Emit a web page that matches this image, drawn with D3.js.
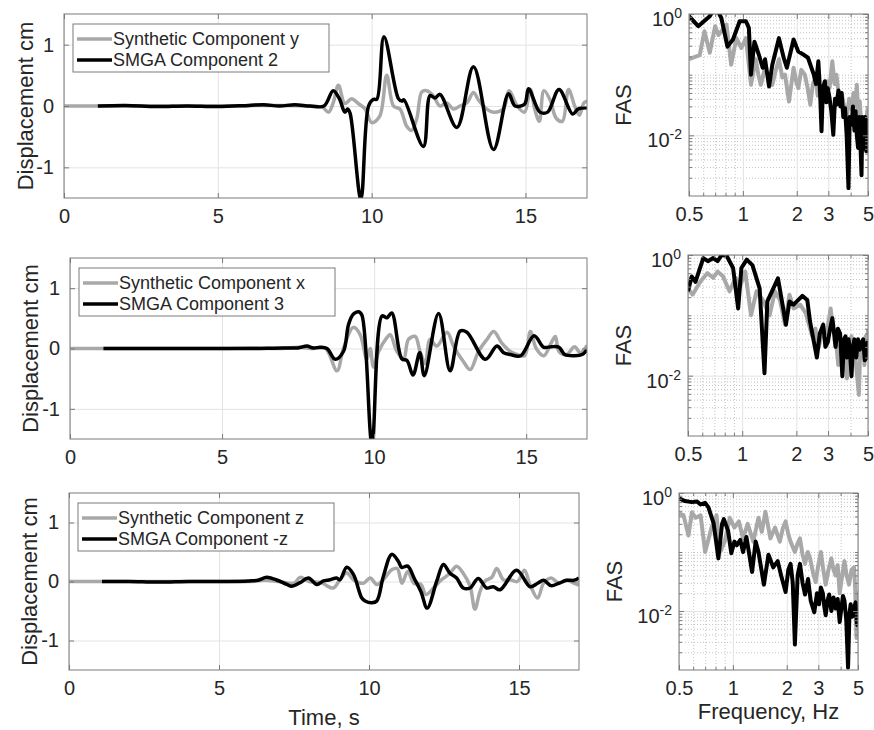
<!DOCTYPE html>
<html>
<head>
<meta charset="utf-8">
<title>Displacement and FAS</title>
<script src="https://cdn.jsdelivr.net/npm/d3@7"></script>
<style>
body { margin: 0; background: #fff; }
text { font-family: "Liberation Sans", Arial, Helvetica, sans-serif; fill: #262626; }
.grid line { stroke: #e3e3e3; stroke-width: 1; }
.minor line { stroke: #c4c4c4; stroke-width: 1; stroke-dasharray: 1,2; }
.frame { fill: none; stroke: #7a7a7a; stroke-width: 1; }
.ax line { stroke: #7a7a7a; }
.synth { fill: none; stroke: #a8a8a8; stroke-width: 3.5; stroke-linejoin: round; }
.smga { fill: none; stroke: #000; stroke-width: 3.5; stroke-linejoin: round; }
.fas .synth, .fas .smga { stroke-width: 4; }
.legend rect { fill: #fff; stroke: #7a7a7a; stroke-width: 1; }
</style>
</head>
<body>
<script>
// ---- data ----
var timeTicks = [0, 5, 10, 15];
var dispTicks = [-1, 0, 1];
var freqTicks = [0.5, 1, 2, 3, 5];
var fasTicks = [1e-2, 1];
var timeDomain = [0, 17];
var dispDomain = [-1.5, 1.5];
var freqDomain = [0.5, 5];
var fasDomain = [1e-3, 1];

var synthNames = ["Synthetic Component y", "Synthetic Component x", "Synthetic Component z"];
var smgaNames = ["SMGA Component 2", "SMGA Component 3", "SMGA Component -z"];

// displacement, [time s, cm]
var synthY = [[0,0],[1,0],[3,0],[5,0],[7,0.01],[8,0],[8.4,-0.02],[8.6,-0.1],[8.75,0.05],[8.92,0.34],[9.13,0.04],[9.35,0.12],[9.57,0.04],[9.79,-0.05],[10.0,-0.27],[10.26,-0.17],[10.49,0.5],[10.71,0.0],[10.92,-0.05],[11.14,-0.33],[11.3,-0.4],[11.47,-0.2],[11.63,0.23],[11.79,0.25],[12.0,0.17],[12.22,0.0],[12.44,0.05],[12.66,-0.05],[12.87,0.0],[13.09,0.05],[13.31,0.22],[13.47,0.1],[13.74,-0.05],[13.96,-0.1],[14.28,-0.05],[14.47,0.25],[14.73,0],[14.97,-0.1],[15.16,0.27],[15.3,-0.05],[15.45,-0.25],[15.6,0.25],[15.8,0.1],[16.0,-0.2],[16.2,-0.25],[16.4,0.27],[16.6,0.0],[16.75,-0.15],[16.9,0.05],[17,0.08]];
var smga2 = [[1.1,0],[2,0.01],[3,-0.01],[4,0],[5,-0.01],[6,0.01],[6.5,0.02],[7,0],[7.5,0.02],[8,0],[8.45,0],[8.75,0.25],[8.95,0.12],[9.13,-0.1],[9.22,-0.05],[9.3,-0.12],[9.65,-1.52],[9.9,0.0],[10.06,0.11],[10.17,0.11],[10.4,1.13],[10.87,0.12],[10.98,0.08],[11.05,0.1],[11.68,-0.66],[11.9,0.17],[12.06,0.13],[12.22,0.19],[12.77,-0.35],[13.31,0.64],[13.96,-0.71],[14.45,0.2],[14.66,0],[14.97,0.03],[15.1,0.28],[15.47,-0.1],[15.72,-0.1],[16.09,0.27],[16.53,-0.13],[16.71,-0.05],[17,-0.03]];
var synthX = [[0,0],[1,0],[3,0],[5,0],[6,0.01],[7,0],[7.5,0.02],[8,0],[8.4,0.0],[8.78,-0.37],[8.99,0],[9.32,0.35],[9.54,0.23],[9.76,-0.18],[9.87,0],[9.98,-0.31],[10.15,-0.05],[10.42,0.18],[10.53,0.23],[10.75,-0.05],[10.97,-0.17],[11.13,0.15],[11.35,0.2],[11.51,-0.05],[11.68,-0.25],[11.84,0.15],[12.06,0.04],[12.4,0.27],[12.61,0.04],[12.94,-0.22],[13.16,-0.35],[13.43,-0.05],[13.71,0.15],[13.93,0.28],[14.2,0.09],[14.48,-0.05],[14.7,-0.1],[14.95,-0.12],[15.14,0.28],[15.33,0],[15.58,-0.12],[15.83,0.1],[15.96,0.2],[16.08,-0.05],[16.33,-0.1],[16.59,0.03],[16.78,-0.07],[17,0.05]];
var smga3 = [[1.1,0],[3,0],[5,0],[6,0],[7,0.01],[7.5,0.01],[7.79,0.04],[8.0,0.01],[8.23,0.02],[8.45,0],[8.72,-0.18],[8.99,-0.05],[9.16,0.4],[9.32,0.57],[9.49,0.61],[9.6,0.55],[9.93,-1.58],[10.26,0.54],[10.42,0.51],[10.58,0.59],[10.91,-0.17],[11.08,-0.2],[11.28,-0.44],[11.5,-0.07],[11.65,-0.45],[12.12,0.58],[12.5,-0.37],[12.83,0.29],[13.05,0.27],[13.66,-0.18],[14.04,0.04],[14.26,-0.07],[14.48,-0.1],[14.82,-0.12],[15.26,0.21],[15.58,0.02],[15.83,0.03],[16.08,0.02],[16.27,-0.1],[16.59,-0.12],[16.84,-0.1],[17,-0.02]];
var synthZ = [[0,0],[1,0],[3,0],[5,0],[6,0],[6.5,0.02],[7,0.0],[7.5,-0.03],[7.7,0.07],[8,0],[8.4,-0.02],[8.81,-0.11],[9.03,0.03],[9.26,0.15],[9.48,0.03],[9.81,-0.03],[10.04,0.06],[10.26,-0.05],[10.48,0.03],[10.76,0.2],[10.94,0.22],[11.1,-0.03],[11.29,0.17],[11.5,-0.03],[11.73,-0.05],[11.9,-0.22],[12.15,-0.11],[12.37,0.01],[12.7,0.14],[12.92,0.26],[13.14,0.14],[13.37,-0.08],[13.53,-0.47],[13.7,-0.17],[13.87,0.01],[14.09,0.07],[14.26,0.22],[14.48,0.03],[14.7,0.03],[14.95,0.0],[15.18,0.19],[15.37,-0.06],[15.62,-0.28],[15.82,-0.03],[16.07,0.06],[16.33,-0.03],[16.59,0.02],[16.84,-0.03],[17,-0.06]];
var smgaNegZ = [[1.1,0],[2,0],[3,-0.01],[4,0],[5,0],[6,0.01],[6.3,0.02],[6.59,0.07],[6.9,0.03],[7.26,-0.05],[7.42,-0.08],[7.7,-0.02],[7.98,0.06],[8.26,-0.05],[8.48,0.01],[8.7,0.03],[8.92,0.06],[9.03,0.03],[9.26,0.24],[9.48,0.12],[9.76,-0.28],[9.87,-0.33],[10.09,-0.36],[10.26,-0.33],[10.48,0.09],[10.76,0.46],[10.98,0.34],[11.09,0.24],[11.29,0.26],[11.51,0.05],[11.73,-0.17],[11.94,-0.45],[12.26,0.01],[12.48,0.29],[12.7,0.14],[12.92,0.06],[13.14,-0.11],[13.37,-0.11],[13.64,0.05],[13.92,-0.11],[14.14,-0.09],[14.37,-0.14],[14.92,0.19],[15.37,-0.09],[15.62,-0.03],[15.82,0.02],[16.07,-0.07],[16.33,-0.03],[16.59,0.02],[16.84,0.02],[17,0.06]];

// Fourier amplitude spectra, [frequency Hz, amplitude]
var fasSynthY = [[0.5,0.18],[0.574,0.21],[0.61,0.52],[0.653,0.23],[0.70,0.63],[0.73,0.45],[0.758,0.52],[0.81,0.67],[0.86,0.146],[0.92,0.40],[0.98,0.275],[1.04,0.40],[1.11,0.068],[1.18,0.18],[1.22,0.1],[1.26,0.068],[1.33,0.13],[1.4,0.09],[1.46,0.068],[1.53,0.12],[1.59,0.18],[1.66,0.09],[1.72,0.1],[1.81,0.036],[1.92,0.13],[1.98,0.08],[2.04,0.06],[2.12,0.12],[2.22,0.1],[2.3,0.06],[2.38,0.032],[2.46,0.07],[2.55,0.09],[2.62,0.045],[2.7,0.055],[2.82,0.035],[2.95,0.078],[3.05,0.06],[3.16,0.166],[3.25,0.07],[3.33,0.1],[3.45,0.04],[3.56,0.05],[3.68,0.03],[3.8,0.019],[3.92,0.04],[4.05,0.027],[4.15,0.05],[4.25,0.03],[4.33,0.068],[4.42,0.02],[4.5,0.036],[4.6,0.012],[4.7,0.0055],[4.8,0.02],[4.88,0.01],[4.95,0.025],[5.0,0.028]];
var fasSmga2 = [[0.5,0.92],[0.563,0.63],[0.653,0.92],[0.69,1.2],[0.726,1.1],[0.758,0.86],[0.82,0.29],[0.88,0.38],[0.96,0.76],[1.04,0.76],[1.08,0.59],[1.11,0.1],[1.16,0.35],[1.23,0.21],[1.29,0.13],[1.33,0.18],[1.40,0.064],[1.46,0.146],[1.59,0.40],[1.69,0.19],[1.76,0.13],[1.92,0.38],[2.04,0.24],[2.15,0.22],[2.31,0.19],[2.49,0.1],[2.56,0.07],[2.64,0.166],[2.7,0.05],[2.75,0.0117],[2.8,0.06],[2.87,0.078],[2.93,0.035],[2.98,0.06],[3.05,0.041],[3.12,0.025],[3.2,0.0102],[3.27,0.04],[3.33,0.032],[3.42,0.055],[3.5,0.03],[3.56,0.05],[3.64,0.02],[3.72,0.028],[3.8,0.01],[3.89,0.00135],[3.95,0.02],[4.05,0.015],[4.12,0.03],[4.2,0.012],[4.26,0.025],[4.33,0.01],[4.4,0.0062],[4.47,0.02],[4.53,0.008],[4.6,0.0022],[4.65,0.02],[4.7,0.015],[4.76,0.006],[4.82,0.02],[4.9,0.0055],[4.95,0.012],[5.0,0.019]];
var fasSynthX = [[0.5,0.28],[0.53,0.22],[0.585,0.36],[0.64,0.5],[0.69,0.42],[0.73,0.53],[0.78,0.45],[0.85,0.25],[0.92,0.42],[0.97,0.29],[1.04,0.53],[1.12,0.1],[1.2,0.25],[1.3,0.18],[1.42,0.1],[1.52,0.25],[1.62,0.18],[1.73,0.07],[1.83,0.22],[1.93,0.13],[2.1,0.15],[2.25,0.11],[2.35,0.07],[2.45,0.045],[2.55,0.06],[2.66,0.029],[2.8,0.06],[2.95,0.05],[3.1,0.13],[3.2,0.06],[3.3,0.045],[3.42,0.015],[3.55,0.04],[3.68,0.03],[3.82,0.009],[3.92,0.03],[4.05,0.045],[4.12,0.02],[4.2,0.027],[4.32,0.012],[4.45,0.0048],[4.52,0.025],[4.6,0.02],[4.7,0.035],[4.78,0.015],[4.85,0.045],[4.92,0.02],[5.0,0.06]];
var fasSmga3 = [[0.5,0.25],[0.524,0.44],[0.55,0.36],[0.608,0.89],[0.645,0.79],[0.69,0.89],[0.73,0.79],[0.77,1.0],[0.82,0.97],[0.89,0.61],[0.95,0.13],[0.99,0.61],[1.06,0.84],[1.14,0.68],[1.25,0.28],[1.33,0.011],[1.38,0.17],[1.58,0.41],[1.69,0.13],[1.75,0.07],[1.83,0.17],[1.93,0.15],[2.16,0.21],[2.3,0.18],[2.38,0.08],[2.6,0.02],[2.7,0.05],[2.82,0.07],[2.9,0.03],[2.99,0.036],[3.08,0.06],[3.17,0.09],[3.3,0.03],[3.4,0.06],[3.5,0.05],[3.6,0.0098],[3.68,0.04],[3.75,0.045],[3.82,0.02],[3.9,0.04],[3.97,0.025],[4.05,0.0098],[4.12,0.03],[4.2,0.04],[4.3,0.02],[4.4,0.04],[4.5,0.027],[4.6,0.035],[4.7,0.04],[4.8,0.018],[4.9,0.02],[4.95,0.035],[5.0,0.025]];
var fasSynthZ = [[0.5,0.45],[0.53,0.42],[0.565,0.19],[0.59,0.47],[0.62,0.38],[0.66,0.42],[0.7,0.1],[0.76,0.26],[0.81,0.42],[0.85,0.1],[0.9,0.15],[0.96,0.38],[1.02,0.26],[1.08,0.33],[1.14,0.17],[1.21,0.3],[1.3,0.15],[1.39,0.38],[1.45,0.22],[1.52,0.48],[1.62,0.17],[1.72,0.26],[1.83,0.15],[1.9,0.25],[1.97,0.33],[2.04,0.2],[2.1,0.15],[2.22,0.1],[2.3,0.14],[2.37,0.17],[2.45,0.09],[2.53,0.063],[2.62,0.1],[2.7,0.078],[2.8,0.045],[2.9,0.031],[3.0,0.06],[3.1,0.1],[3.2,0.05],[3.3,0.028],[3.42,0.05],[3.55,0.078],[3.65,0.05],[3.75,0.04],[3.85,0.06],[3.95,0.02],[4.08,0.04],[4.2,0.07],[4.32,0.04],[4.45,0.028],[4.6,0.05],[4.75,0.055],[4.82,0.025],[4.9,0.0035],[4.95,0.02],[5.0,0.015]];
var fasSmgaNegZ = [[0.5,0.81],[0.54,0.73],[0.59,0.70],[0.63,0.72],[0.66,0.64],[0.7,0.68],[0.73,0.57],[0.78,0.31],[0.83,0.078],[0.87,0.3],[0.89,0.36],[0.94,0.23],[0.98,0.095],[1.02,0.15],[1.05,0.13],[1.1,0.16],[1.14,0.1],[1.19,0.18],[1.28,0.046],[1.34,0.15],[1.39,0.1],[1.49,0.028],[1.58,0.09],[1.68,0.055],[1.78,0.07],[1.86,0.04],[1.97,0.021],[2.04,0.05],[2.1,0.063],[2.16,0.03],[2.22,0.0027],[2.3,0.04],[2.37,0.063],[2.45,0.03],[2.53,0.019],[2.63,0.035],[2.72,0.015],[2.85,0.0095],[2.95,0.02],[3.03,0.013],[3.1,0.025],[3.18,0.02],[3.24,0.012],[3.3,0.0085],[3.38,0.015],[3.45,0.019],[3.55,0.01],[3.65,0.017],[3.75,0.011],[3.85,0.016],[3.95,0.0065],[4.05,0.012],[4.12,0.018],[4.2,0.015],[4.3,0.007],[4.4,0.0011],[4.48,0.009],[4.55,0.013],[4.65,0.008],[4.75,0.011],[4.85,0.014],[4.93,0.006],[5.0,0.0055]];

var timeSeries = [[synthY, smga2], [synthX, smga3], [synthZ, smgaNegZ]];
var fasSeries = [[fasSynthY, fasSmga2], [fasSynthX, fasSmga3], [fasSynthZ, fasSmgaNegZ]];

// ---- layout (pixel boxes of each axes) ----
var layout = [
  {t: {x0: 64, x1: 587, y0: 14, y1: 198}, f: {x0: 689, x1: 868, y0: 14, y1: 196}, ylabX: 25, fasLabX: 623},
  {t: {x0: 70, x1: 587, y0: 258, y1: 439}, f: {x0: 688, x1: 868, y0: 255, y1: 436}, ylabX: 30, fasLabX: 623},
  {t: {x0: 69, x1: 579, y0: 493, y1: 670}, f: {x0: 679, x1: 858, y0: 493, y1: 670}, ylabX: 29, fasLabX: 614}
];

var svg = d3.select("body").append("svg")
    .attr("width", 874)
    .attr("height", 730);

function clip(id, p) {
  svg.append("clipPath").attr("id", id).append("rect")
      .attr("x", p.x0).attr("y", p.y0)
      .attr("width", p.x1 - p.x0).attr("height", p.y1 - p.y0);
  return "url(#" + id + ")";
}

function noDomain(s) { s.select(".domain").remove(); }

function frameAxes(g, p, x, y, xt, yt, xfmt, yfmt, xminor, yminor) {
  g.append("rect").attr("class", "frame")
      .attr("x", p.x0).attr("y", p.y0)
      .attr("width", p.x1 - p.x0).attr("height", p.y1 - p.y0);

  var bx = g.append("g").attr("class", "ax").attr("transform", "translate(0," + p.y1 + ")")
      .call(d3.axisBottom(x).tickValues(xt).tickSizeInner(-5).tickSizeOuter(0).tickPadding(11).tickFormat(xfmt))
      .call(noDomain);
  bx.selectAll("text").style("font-size", "20px");
  g.append("g").attr("class", "ax").attr("transform", "translate(0," + p.y0 + ")")
      .call(d3.axisTop(x).tickValues(xt).tickSizeInner(-5).tickSizeOuter(0).tickFormat(""))
      .call(noDomain);
  var ly = g.append("g").attr("class", "ax").attr("transform", "translate(" + p.x0 + ",0)")
      .call(d3.axisLeft(y).tickValues(yt).tickSizeInner(-5).tickSizeOuter(0).tickPadding(10).tickFormat(yfmt))
      .call(noDomain);
  ly.selectAll("text").style("font-size", "20px");
  g.append("g").attr("class", "ax").attr("transform", "translate(" + p.x1 + ",0)")
      .call(d3.axisRight(y).tickValues(yt).tickSizeInner(-5).tickSizeOuter(0).tickFormat(""))
      .call(noDomain);

  if (xminor) {
    g.append("g").attr("class", "ax").attr("transform", "translate(0," + p.y1 + ")")
        .call(d3.axisBottom(x).tickValues(xminor).tickSizeInner(-3).tickSizeOuter(0).tickFormat(""))
        .call(noDomain);
    g.append("g").attr("class", "ax").attr("transform", "translate(0," + p.y0 + ")")
        .call(d3.axisTop(x).tickValues(xminor).tickSizeInner(-3).tickSizeOuter(0).tickFormat(""))
        .call(noDomain);
  }
  if (yminor) {
    g.append("g").attr("class", "ax").attr("transform", "translate(" + p.x0 + ",0)")
        .call(d3.axisLeft(y).tickValues(yminor).tickSizeInner(-3).tickSizeOuter(0).tickFormat(""))
        .call(noDomain);
    g.append("g").attr("class", "ax").attr("transform", "translate(" + p.x1 + ",0)")
        .call(d3.axisRight(y).tickValues(yminor).tickSizeInner(-3).tickSizeOuter(0).tickFormat(""))
        .call(noDomain);
  }
  return ly;
}

function timePanel(i) {
  var p = layout[i].t;
  var x = d3.scaleLinear().domain(timeDomain).range([p.x0, p.x1]);
  var y = d3.scaleLinear().domain(dispDomain).range([p.y1, p.y0]);
  var g = svg.append("g");

  g.append("g").attr("class", "grid").attr("transform", "translate(0," + p.y1 + ")")
      .call(d3.axisBottom(x).tickValues(timeTicks).tickSize(-(p.y1 - p.y0)).tickFormat(""))
      .call(noDomain);
  g.append("g").attr("class", "grid").attr("transform", "translate(" + p.x0 + ",0)")
      .call(d3.axisLeft(y).tickValues(dispTicks).tickSize(-(p.x1 - p.x0)).tickFormat(""))
      .call(noDomain);

  var cp = clip("clipT" + i, p);
  var line = d3.line()
      .curve(d3.curveCatmullRom.alpha(0.5))
      .x(function(d) { return x(d[0]); })
      .y(function(d) { return y(d[1]); });
  g.append("path").datum(timeSeries[i][0]).attr("class", "synth").attr("clip-path", cp).attr("d", line);
  g.append("path").datum(timeSeries[i][1]).attr("class", "smga").attr("clip-path", cp).attr("d", line);

  frameAxes(g, p, x, y, timeTicks, dispTicks, function(d) { return String(d); }, function(d) { return String(d); });

  g.append("text")
      .attr("transform", "translate(" + layout[i].ylabX + "," + ((p.y0 + p.y1) / 2) + ") rotate(-90)")
      .attr("text-anchor", "middle")
      .attr("dominant-baseline", "central")
      .style("font-size", "22px")
      .text("Displacement cm");

  // legend
  var lx = p.x0 + 9, ly = p.y0 + 10;
  var lg = g.append("g").attr("class", "legend");
  lg.append("rect").attr("x", lx).attr("y", ly).attr("width", 256).attr("height", 48);
  [[synthNames[i], "synth"], [smgaNames[i], "smga"]].forEach(function(e, k) {
    var yy = ly + 15 + k * 21;
    lg.append("line").attr("class", e[1]).attr("x1", lx + 4).attr("x2", lx + 39).attr("y1", yy).attr("y2", yy);
    lg.append("text").attr("x", lx + 40).attr("y", yy).attr("dominant-baseline", "central")
        .style("font-size", "18px").text(e[0]);
  });

  if (i === 2) {
    g.append("text").attr("x", (p.x0 + p.x1) / 2).attr("y", 717)
        .attr("text-anchor", "middle").attr("dominant-baseline", "central")
        .style("font-size", "22px").text("Time, s");
  }
}

function fasPanel(i) {
  var p = layout[i].f;
  var x = d3.scaleLog().domain(freqDomain).range([p.x0, p.x1]);
  var y = d3.scaleLog().domain(fasDomain).range([p.y1, p.y0]);
  var g = svg.append("g").attr("class", "fas");

  var xminor = [0.6, 0.7, 0.8, 0.9, 4];
  var yminor = [];
  [-3, -2, -1].forEach(function(n) {
    d3.range(1, 10).forEach(function(k) {
      var v = k * Math.pow(10, n);
      if (k !== 1 || n === -1) yminor.push(v);
    });
  });

  g.append("g").attr("class", "minor").attr("transform", "translate(0," + p.y1 + ")")
      .call(d3.axisBottom(x).tickValues(xminor).tickSize(-(p.y1 - p.y0)).tickFormat(""))
      .call(noDomain);
  g.append("g").attr("class", "minor").attr("transform", "translate(" + p.x0 + ",0)")
      .call(d3.axisLeft(y).tickValues(yminor).tickSize(-(p.x1 - p.x0)).tickFormat(""))
      .call(noDomain);
  g.append("g").attr("class", "grid").attr("transform", "translate(0," + p.y1 + ")")
      .call(d3.axisBottom(x).tickValues(freqTicks).tickSize(-(p.y1 - p.y0)).tickFormat(""))
      .call(noDomain);
  g.append("g").attr("class", "grid").attr("transform", "translate(" + p.x0 + ",0)")
      .call(d3.axisLeft(y).tickValues(fasTicks).tickSize(-(p.x1 - p.x0)).tickFormat(""))
      .call(noDomain);

  var cp = clip("clipF" + i, p);
  var line = d3.line().x(function(d) { return x(d[0]); }).y(function(d) { return y(d[1]); });
  g.append("path").datum(fasSeries[i][0]).attr("class", "synth").attr("clip-path", cp).attr("d", line);
  g.append("path").datum(fasSeries[i][1]).attr("class", "smga").attr("clip-path", cp).attr("d", line);

  var ly = frameAxes(g, p, x, y, freqTicks, fasTicks, function(d) { return String(d); }, function() { return ""; }, xminor, yminor);

  // 10^n labels, base sits a little below the tick as in the original
  ly.selectAll(".tick text").each(function(d) {
    var t = d3.select(this).attr("x", -7).attr("y", 5);
    t.append("tspan").style("font-size", "20px").text("10");
    t.append("tspan").style("font-size", "14px").attr("dy", "-8").text(String(Math.round(Math.log10(d))));
  });

  g.append("text")
      .attr("transform", "translate(" + layout[i].fasLabX + "," + ((p.y0 + p.y1) / 2) + ") rotate(-90)")
      .attr("text-anchor", "middle")
      .attr("dominant-baseline", "central")
      .style("font-size", "22px")
      .text("FAS");

  if (i === 2) {
    g.append("text").attr("x", (p.x0 + p.x1) / 2).attr("y", 711)
        .attr("text-anchor", "middle").attr("dominant-baseline", "central")
        .style("font-size", "22px").text("Frequency, Hz");
  }
}

[0, 1, 2].forEach(function(i) { timePanel(i); fasPanel(i); });
</script>
</body>
</html>
